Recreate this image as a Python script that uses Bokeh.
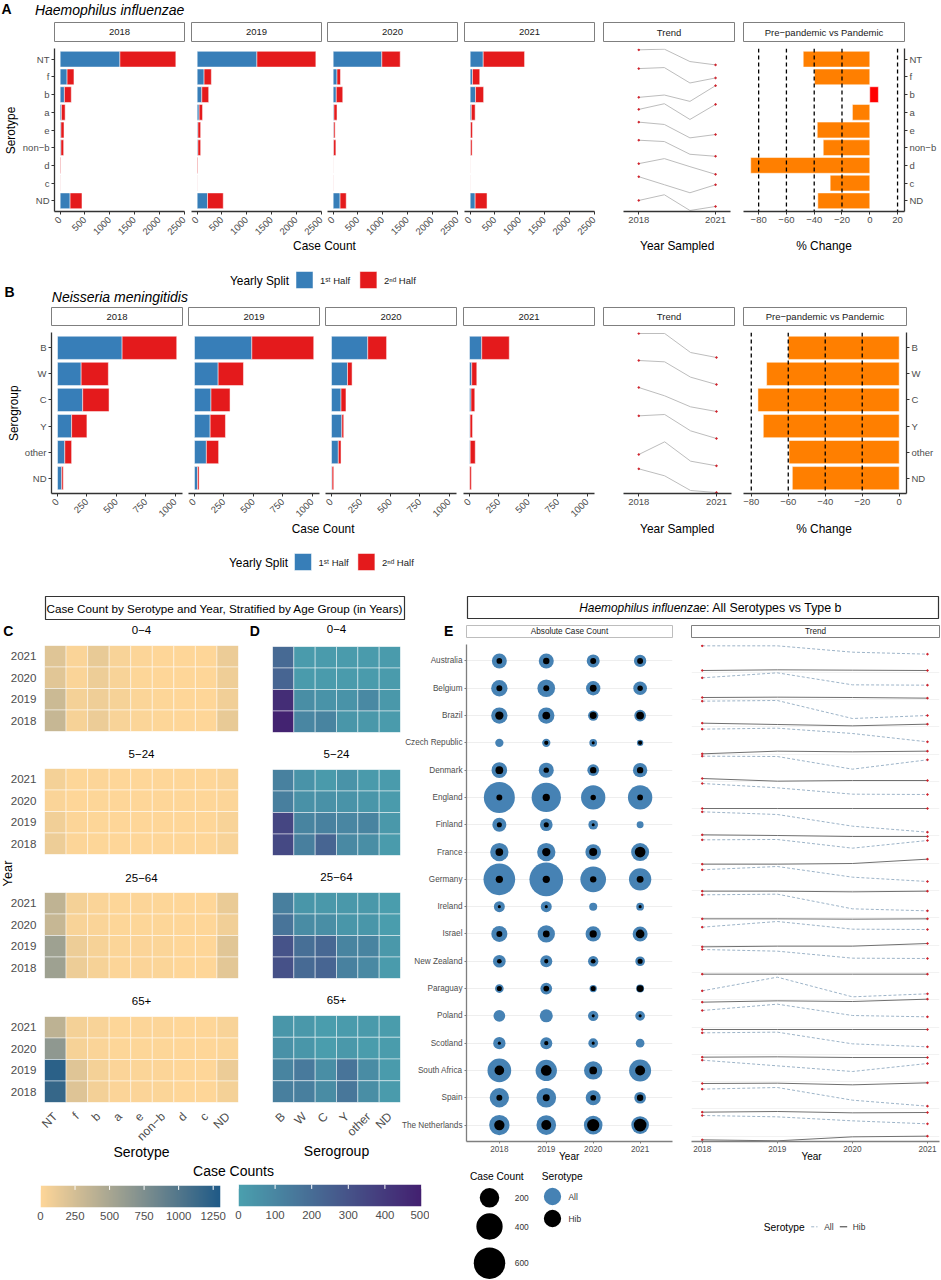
import math
import numpy as np
from bokeh.core.properties import value
from bokeh.embed import file_html
from bokeh.resources import INLINE
from bokeh.layouts import column
from bokeh.plotting import figure
from bokeh.models import FactorRange, Range1d, FixedTicker, Span, LinearColorMapper, ColumnDataSource

YEARS = [2018, 2019, 2020, 2021]
YEAR_LABELS = ["2018", "2019", "2020", "2021"]

# ---- Panel A
SEROTYPES = ["NT", "f", "b", "a", "e", "non\u2212b", "d", "c", "ND"]
hi_first = {
    2018: [1206, 139, 85, 25, 15, 15, 4, 2, 200],
    2019: [1206, 139, 93, 39, 15, 15, 3, 2, 209],
    2020: [982, 77, 62, 15, 12, 8, 1, 1, 139],
    2021: [263, 46, 108, 23, 8, 8, 1, 1, 100],
}
hi_total = {
    2018: [2335, 278, 224, 100, 77, 70, 15, 6, 440],
    2019: [2396, 286, 232, 108, 70, 70, 15, 5, 526],
    2020: [1353, 147, 193, 77, 39, 54, 3, 4, 263],
    2021: [1098, 193, 271, 100, 46, 39, 3, 3, 340],
}
hi_trend = [
    [149, 147, 184, 194], [205, 202, 248, 233], [291, 284, 303, 256],
    [327, 310, 357, 312], [365, 372, 412, 402], [419, 423, 461, 467],
    [489, 474, 498, 521], [528, 552, 576, 552], [599, 582, 629, 617],
]
hi_change = [-47.9, -39.8, 6.2, -12.5, -37.8, -33.5, -85.7, -28.5, -37.4]

# ---- Panel B
SEROGROUPS = ["B", "W", "C", "Y", "other", "ND"]
nm_first = {
    2018: [549, 201, 214, 120, 62, 36],
    2019: [487, 201, 140, 133, 101, 26],
    2020: [308, 136, 81, 88, 58, 5],
    2021: [104, 19, 13, 5, 6, 2],
}
nm_total = {
    2018: [1013, 432, 438, 250, 120, 49],
    2019: [1013, 416, 302, 263, 205, 39],
    2020: [468, 175, 123, 104, 81, 19],
    2021: [338, 62, 45, 26, 49, 16],
}
nm_trend = [
    [130, 130, 187, 202], [211, 215, 261, 283], [292, 317, 350, 364],
    [377, 373, 422, 445], [493, 455, 513, 527], [536, 557, 601, 607],
]
nm_change = [-60, -71.7, -76.4, -73.5, -59.6, -57.8]

# ---- Panels C / D (rows: 2021, 2020, 2019, 2018)
HEAT_YEARS = ["2021", "2020", "2019", "2018"]
AGE_GROUPS = ["0\u22124", "5\u221224", "25\u221264", "65+"]
hi_age_0_4 = [[180, 30, 130, 40, 15, 5, 0, 0, 110], [170, 30, 100, 40, 10, 5, 0, 0, 90],
              [300, 60, 90, 50, 20, 10, 0, 0, 80], [330, 50, 110, 40, 20, 10, 0, 0, 130]]
hi_age_5_24 = [[60, 10, 15, 5, 5, 5, 0, 0, 30], [30, 5, 10, 5, 5, 5, 0, 0, 15],
               [80, 15, 10, 5, 5, 5, 0, 0, 40], [100, 15, 10, 5, 5, 5, 0, 0, 40]]
hi_age_25_64 = [[370, 60, 30, 10, 15, 10, 0, 0, 120], [330, 40, 30, 10, 10, 10, 0, 0, 80],
                [560, 100, 50, 20, 25, 20, 0, 0, 170], [560, 100, 50, 15, 25, 20, 0, 0, 160]]
hi_age_65 = [[380, 60, 40, 10, 15, 15, 0, 0, 40], [650, 50, 30, 10, 10, 10, 0, 0, 20],
             [1230, 180, 60, 25, 20, 15, 0, 0, 110], [1170, 190, 70, 25, 25, 20, 0, 0, 60]]
nm_age_0_4 = [[210, 20, 20, 20, 20, 20], [230, 20, 20, 20, 20, 20],
              [450, 70, 50, 50, 90, 30], [490, 100, 110, 40, 30, 20]]
nm_age_5_24 = [[120, 50, 25, 50, 25, 20], [130, 60, 60, 50, 40, 20],
               [350, 110, 120, 100, 110, 30], [340, 130, 230, 90, 70, 20]]
nm_age_25_64 = [[130, 40, 30, 30, 30, 10], [170, 80, 70, 40, 40, 10],
                [300, 190, 220, 110, 110, 30], [310, 210, 230, 120, 90, 20]]
nm_age_65 = [[40, 30, 10, 20, 25, 15], [60, 40, 10, 30, 15, 15],
             [110, 150, 70, 170, 80, 20], [130, 130, 80, 160, 70, 20]]

# ---- Panel E
COUNTRIES = ["Australia", "Belgium", "Brazil", "Czech Republic", "Denmark", "England", "Finland",
             "France", "Germany", "Ireland", "Israel", "New Zealand", "Paraguay", "Poland",
             "Scotland", "South Africa", "Spain", "The Netherlands"]
all_counts = [[105, 105, 73, 63], [130, 158, 94, 83], [130, 130, 39, 55], [20, 20, 16, 8],
              [117, 105, 55, 94], [578, 511, 335, 335], [88, 68, 32, 11], [172, 172, 117, 165],
              [607, 695, 378, 275], [46, 46, 18, 16], [124, 150, 111, 105], [68, 59, 39, 32],
              [23, 55, 13, 18], [55, 73, 39, 32], [63, 59, 32, 23], [315, 247, 172, 265],
              [196, 204, 105, 55], [221, 204, 180, 158]]
hib_counts = [[5, 8, 6, 6], [6, 6, 10, 4], [20, 16, 11, 16], [None, 1, 0, 1],
              [16, 4, 8, 8], [6, 13, 4, 5], [3, 3, 0, None], [16, 20, 18, 43],
              [13, 13, 8, 11], [0, 0, None, 0], [6, 10, 13, 23], [2, 1, 2, 3],
              [3, 5, 3, 10], [None, None, 0, 0], [0, 1, 0, None], [32, 43, 16, 35],
              [6, 11, 5, 8], [39, 35, 63, 68]]
all_trend = [[166, 166, 185, 191], [262, 247, 283, 284], [332, 330, 384, 375], [416, 413, 429, 454],
             [497, 498, 536, 508], [579, 592, 611, 612], [664, 672, 707, 725], [748, 747, 773, 750],
             [838, 828, 860, 873], [913, 911, 955, 961], [1010, 993, 1016, 1017], [1077, 1082, 1103, 1104],
             [1201, 1160, 1219, 1210], [1260, 1241, 1275, 1279], [1327, 1325, 1360, 1369],
             [1409, 1426, 1443, 1419], [1496, 1491, 1529, 1547], [1575, 1579, 1591, 1600]]
hib_trend = [[240, 238, 239, 240], [321, 320, 321, 323], [398, 402, 406, 401], [490, 482, 484, 482],
             [564, 572, 570, 570], [654, 654, 654, 654], [733, 735, 738, 738], [821, 821, 819, 806],
             [902, 902, 904, 902], [985, 985, 986, 985], [1069, 1067, 1067, 1059], [1151, 1151, 1151, 1151],
             [1235, 1231, 1233, 1226], [1317, 1317, 1317, 1317], [1400, 1399, 1401, 1401],
             [1479, 1478, 1483, 1477], [1565, 1563, 1567, 1566], [1648, 1651, 1639, 1637]]
legend_counts = [200, 400, 600]

# ---- Style
FONT = "Liberation Sans"
BLUE, RED, ORANGE = "#377EB8", "#E41A1C", "#FF7F00"
AXIS = "#333333"
TICKTXT = "#4D4D4D"
W, H = 941, 1280


def bubble(v):
    return 3.1 + 1.16 * math.sqrt(v)


def lerp_palette(a, b, n=256):
    ca = [int(a[i:i + 2], 16) for i in (1, 3, 5)]
    cb = [int(b[i:i + 2], 16) for i in (1, 3, 5)]
    return ["#%02x%02x%02x" % tuple(round(ca[k] + (cb[k] - ca[k]) * t / (n - 1)) for k in range(3)) for t in range(n)]


all_figs = []


def panel(x0, y0, x1, y1, xr, yr, bl=10, br=10, bt=5, bb=50, **kw):
    br = min(br, W - x1)
    bb = min(bb, H - y1)
    p = figure(x_range=xr, y_range=yr, width=x1 - x0 + bl + br, height=y1 - y0 + bt + bb,
               min_border_left=bl, min_border_right=br, min_border_top=bt, min_border_bottom=bb,
               toolbar_location=None, output_backend="svg", background_fill_color=None,
               border_fill_color=None, outline_line_color=None, frame_align=False,
               styles={"position": "absolute", "left": f"{x0 - bl}px", "top": f"{y0 - bt}px"}, **kw)
    p.grid.visible = False
    all_figs.append(p)
    return p


def style_axis(ax, size="9.5px", line=AXIS, lw=1.3, tick=3):
    ax.major_label_text_font = FONT
    ax.major_label_text_font_size = size
    ax.major_label_text_color = TICKTXT
    ax.axis_line_color = line
    ax.axis_line_width = lw
    ax.major_tick_line_color = line
    ax.major_tick_in = 0
    ax.major_tick_out = tick
    ax.minor_tick_line_color = None
    ax.major_label_standoff = 2


ov = figure(width=W, height=H, x_range=Range1d(0, W), y_range=Range1d(H, 0), x_axis_type=None, y_axis_type=None,
            min_border=0, toolbar_location=None, output_backend="svg", outline_line_color=None,
            background_fill_color=None, border_fill_color=None, frame_align=False,
            styles={"position": "absolute", "left": "0px", "top": "0px"})
ov.grid.visible = False
all_figs.append(ov)


def T(x, y, s, size=11.9, align="center", base="middle", color="black", style="normal", angle=0.0):
    ov.text([x], [y], text=[s], text_font=value(FONT), text_font_size=f"{size}px", text_align=align,
            text_baseline=base, text_color=color, text_font_style=style, angle=angle)


def box(x0, y0, x1, y1, label=None, size=9.5, color="#7F7F7F", lw=1.0):
    ov.quad(left=[x0], right=[x1], top=[y0], bottom=[y1], fill_color="white", line_color=color, line_width=lw)
    if label:
        T((x0 + x1) / 2, (y0 + y1) / 2, label, size=size, color="#1A1A1A")


def bars(cats, first, total, frames, top, bottom, xstart, xend, ticks):
    n = len(cats)
    step = step_of[n]
    rp = ((bottom - top) - n * step) / (n * step)
    for i, (yr, (x0, x1)) in enumerate(zip(YEARS, frames)):
        p = panel(x0, top, x1, bottom, Range1d(xstart, xend), FactorRange(factors=cats[::-1], range_padding=rp), bl=45, bb=35)
        a = first[yr]
        b = total[yr]
        p.hbar(y=cats, left=0, right=a, height=0.89, fill_color=BLUE, line_color="white", line_width=0.5)
        p.hbar(y=cats, left=a, right=b, height=0.89, fill_color=RED, line_color="white", line_width=0.5)
        style_axis(p.xaxis[0])
        style_axis(p.yaxis[0])
        p.xaxis.ticker = FixedTicker(ticks=ticks)
        p.xaxis.major_label_orientation = math.pi / 4
        p.xaxis.major_label_standoff = 4
        if i:
            p.yaxis.visible = False


def sparks(rows, x0, x1, top, bottom, xr, zr):
    p = panel(x0, top, x1, bottom, Range1d(*xr), Range1d(*zr), bb=25)
    for r in rows:
        p.line(YEARS, r, line_color="#BDBDBD", line_width=1)
        p.scatter([YEARS[0], YEARS[-1]], [r[0], r[-1]], size=1.6, color="#D0202A")
    style_axis(p.xaxis[0])
    p.xaxis.ticker = FixedTicker(ticks=[2018, 2021])
    p.yaxis.visible = False


def change(cats, vals, x0, x1, top, bottom, xr, ticks, lines):
    n = len(cats)
    step = step_of[n]
    rp = ((bottom - top) - n * step) / (n * step)
    p = panel(x0, top, x1, bottom, Range1d(*xr), FactorRange(factors=cats[::-1], range_padding=rp), br=37, bb=25,
              y_axis_location="right")
    colors = [ORANGE if v < 0 else "#FF0000" for v in vals]
    p.hbar(y=cats, left=0, right=vals, height=0.89, fill_color=colors, line_color="white", line_width=0.5)
    for v in lines:
        p.add_layout(Span(location=v, dimension="height", line_color="black", line_width=1.3, line_dash=[4, 3]))
    style_axis(p.xaxis[0])
    style_axis(p.yaxis[0])
    p.xaxis.ticker = FixedTicker(ticks=ticks)


step_of = {9: 17.7, 6: 26.07}

# ---- A
for (x0, x1), y in zip([(54, 184), (191, 321), (327, 457), (464, 594)], YEAR_LABELS):
    box(x0, 22, x1, 41, y)
box(603, 22, 734, 41, "Trend")
box(743, 22, 904, 41, "Pre\u2212pandemic vs Pandemic")
bars(SEROTYPES, hi_first, hi_total, [(54, 184), (191, 321), (327, 457), (464, 594)], 48, 211, -115, 2510,
     [0, 500, 1000, 1500, 2000, 2500])
sparks(hi_trend, 623, 730, 48, 211, (2017.404, 2021.584), (632, 145))
change(SEROTYPES, hi_change, 743, 904, 48, 211, (-90.9, 25), [-80, -60, -40, -20, 0, 20], [-80, -60, -40, -20, 20])

# ---- B
for (x0, x1), y in zip([(51, 182), (188, 319), (325, 456), (463, 594)], YEAR_LABELS):
    box(x0, 307, x1, 325, y)
box(603, 307, 734, 325, "Trend")
box(743, 307, 906, 325, "Pre\u2212pandemic vs Pandemic")
bars(SEROGROUPS, nm_first, nm_total, [(51, 182), (188, 319), (325, 456), (463, 594)], 332, 493, -50.9, 1062,
     [0, 250, 500, 750, 1000])
sparks(nm_trend, 623, 731, 332, 493, (2017.41, 2021.58), (610, 127))
change(SEROGROUPS, nm_change, 743, 906, 332, 493, (-84.2, 3.95), [-80, -60, -40, -20, 0], [-80, -60, -40, -20])

T(34.4, 9.3, "Haemophilus influenzae", size=14, align="left", style="italic")
T(51.3, 296.7, "Neisseria meningitidis", size=14, align="left", style="italic")
T(1, 8, "A", size=14, align="left", style="bold")
T(4, 291, "B", size=14, align="left", style="bold")
T(10, 130, "Serotype", size=11.9, angle=math.pi / 2)
T(13.8, 412.7, "Serogroup", size=11.9, angle=math.pi / 2)
for (cc, ys, leg, sw1, sw2, legy) in [(324, 245.7, 259, 295.5, 359.4, 280), (322.6, 528.3, 258, 294, 357.4, 562)]:
    T(cc, ys, "Case Count")
    T(676.7, ys, "Year Sampled")
    T(823.5, ys, "% Change")
    T(leg, legy, "Yearly Split")
    ov.quad(left=[sw1], right=[sw1 + 17], top=[legy - 9], bottom=[legy + 8], fill_color=BLUE, line_color="white", line_width=0.5)
    ov.quad(left=[sw2], right=[sw2 + 17], top=[legy - 9], bottom=[legy + 8], fill_color=RED, line_color="white", line_width=0.5)
    T(sw1 + 24, legy, "1\u02e2\u1d57 Half", size=9.5, align="left", color="#1A1A1A")
    T(sw2 + 24, legy, "2\u207f\u1d48 Half", size=9.5, align="left", color="#1A1A1A")

# ---- C / D
CHI_HIGH = 1303
pal_c = lerp_palette("#FED698", "#1F5A87")
pal_d = lerp_palette("#4AA0AE", "#432070")
map_c = LinearColorMapper(palette=pal_c, low=0, high=CHI_HIGH)
map_d = LinearColorMapper(palette=pal_d, low=0, high=500)


def heat(rows, cats, mapper, x0, x1, top, bottom, yaxis, xaxis):
    xs, ys, vs = [], [], []
    for yr, row in zip(HEAT_YEARS, rows):
        for c, v in zip(cats, row):
            xs.append(c)
            ys.append(yr)
            vs.append(v)
    src = ColumnDataSource(dict(x=xs, y=ys, v=vs))
    p = panel(x0, top, x1, bottom, FactorRange(factors=cats, range_padding=0),
              FactorRange(factors=HEAT_YEARS[::-1], range_padding=0), bl=40, bb=50 if xaxis else 5)
    p.rect(x="x", y="y", width=1, height=1, source=src, fill_color={"field": "v", "transform": mapper},
           line_color="#FFFFFF", line_alpha=0.6, line_width=0.8)
    style_axis(p.xaxis[0], size="12px", line=None, tick=0)
    style_axis(p.yaxis[0], size="11.6px", line=None, tick=0)
    p.xaxis.major_label_orientation = math.pi / 4
    p.xaxis.major_label_standoff = 12
    p.yaxis.major_label_standoff = 8
    p.xaxis.visible = xaxis
    p.yaxis.visible = yaxis


c_rows = [hi_age_0_4, hi_age_5_24, hi_age_25_64, hi_age_65]
d_rows = [nm_age_0_4, nm_age_5_24, nm_age_25_64, nm_age_65]
c_spans = [(645, 731), (768, 854), (892, 978), (1016, 1102)]
d_spans = [(646, 732), (769, 855), (892, 978), (1015, 1102)]
title_c = [629.3, 753, 877.3, 1000.7]
title_d = [628.7, 753.7, 876.7, 999.7]
for i in range(4):
    heat(c_rows[i], SEROTYPES, map_c, 44, 238, c_spans[i][0], c_spans[i][1], True, i == 3)
    heat(d_rows[i], SEROGROUPS, map_d, 272, 400, d_spans[i][0], d_spans[i][1], False, i == 3)
    T(141, title_c[i], AGE_GROUPS[i], size=11.5)
    T(336, title_d[i], AGE_GROUPS[i], size=11.5)

box(45, 596, 404, 619, color="#333333", lw=1.2)
T(224.5, 607.5, "Case Count by Serotype and Year, Stratified by Age Group (in Years)", size=11.7)
T(2.7, 630, "C", size=14, align="left", style="bold")
T(249.3, 630, "D", size=14, align="left", style="bold")
T(6.7, 873, "Year", size=12.8, angle=math.pi / 2)
T(141, 1151.7, "Serotype", size=14)
T(336, 1150, "Serogroup", size=14)
T(233, 1170.7, "Case Counts", size=14)


def colorbar(mapper, high, ticks, x0, x1, y0, y1):
    p = panel(x0, y0, x1, y1, Range1d(0, high), Range1d(0, 1), bl=8, br=8, bb=18)
    p.image(image=[np.linspace(0, high, 256).reshape(1, -1)], x=0, y=0, dw=high, dh=1, color_mapper=mapper)
    p.segment(x0=ticks, x1=ticks, y0=[0.8] * len(ticks), y1=[1.0] * len(ticks), line_color="white", line_width=1)
    ax = p.xaxis[0]
    style_axis(ax, size="11.4px", line=None, tick=0)
    ax.ticker = FixedTicker(ticks=ticks)
    ax.major_label_standoff = 4
    p.yaxis.visible = False


colorbar(map_c, CHI_HIGH, [0, 250, 500, 750, 1000, 1250], 40, 220, 1185, 1207)
colorbar(map_d, 500, [0, 100, 200, 300, 400, 500], 238, 421, 1184, 1206)

# ---- E
box(467, 596, 938, 618, color="#333333", lw=1.2)
T(578.7, 607.5, "Haemophilus influenzae", size=11.9, align="left", style="italic")
T(705.5, 607.5, ": All Serotypes vs Type b", size=12.4, align="left")
T(443.5, 630, "E", size=14, align="left", style="bold")
box(466, 625, 672, 637, "Absolute Case Count", size=8.2, color="#BDBDBD")
box(691, 625, 939, 637, "Trend", size=8.2, color="#7F7F7F")

n = len(COUNTRIES)
rp_e = (497 - n * 27.3) / (n * 27.3)
pb = panel(466, 644, 672, 1141, Range1d(2017.30, 2021.69), FactorRange(factors=COUNTRIES[::-1], range_padding=rp_e),
           bl=70, bb=20)
pb.ygrid.visible = True
pb.ygrid.grid_line_color = "#EEEEEE"
pb.ygrid.grid_line_width = 1
style_axis(pb.xaxis[0], size="8.2px", line="#7F7F7F", tick=2)
style_axis(pb.yaxis[0], size="8.2px", line="#7F7F7F", tick=2)
pb.xaxis.ticker = FixedTicker(ticks=YEARS)
for c, a_row, h_row in zip(COUNTRIES, all_counts, hib_counts):
    pb.scatter(YEARS, [c] * 4, size=[bubble(v) for v in a_row], fill_color="#4682B4", line_color=None)
    yrs = [y for y, v in zip(YEARS, h_row) if v is not None]
    pb.scatter(yrs, [c] * len(yrs), size=[bubble(v) for v in h_row if v is not None], fill_color="black", line_color=None)

pt = panel(691, 644, 939, 1141, Range1d(2017.857, 2021.16), Range1d(1653, 162), bl=5, br=2, bb=20)
pt.ygrid.visible = True
pt.ygrid.grid_line_color = "#F2F2F2"
pt.ygrid.ticker = FixedTicker(ticks=[245 + 81.9 * i for i in range(18)])
style_axis(pt.xaxis[0], size="8.2px", line="#7F7F7F", tick=2)
pt.xaxis.ticker = FixedTicker(ticks=YEARS)
pt.yaxis.visible = False
for a_row, h_row in zip(all_trend, hib_trend):
    pt.line(YEARS, a_row, line_color="#9DB4C8", line_width=1, line_dash=[3, 2])
    pt.line(YEARS, h_row, line_color="#707070", line_width=1)
    for r in (a_row, h_row):
        pt.scatter([2018, 2021], [r[0], r[-1]], size=1.6, color="#D0202A")

T(568.7, 1156, "Year", size=10)
T(811, 1156, "Year", size=10)
T(496.3, 1175.7, "Case Count", size=10.2)
T(561.7, 1175.7, "Serotype", size=10.2)
for v, cy in zip(legend_counts, [1197.3, 1226, 1262.7]):
    ov.scatter([489], [cy], size=bubble(v), fill_color="black", line_color=None)
    T(514.3, cy, str(v), size=8.4, align="left", color="#333333")
ov.scatter([552], [1196], size=17.3, fill_color="#4682B4", line_color=None)
ov.scatter([552], [1218], size=17.3, fill_color="black", line_color=None)
T(568, 1196, "All", size=8.4, align="left", color="#333333")
T(568, 1218, "Hib", size=8.4, align="left", color="#333333")
T(763.3, 1227, "Serotype", size=10.2, align="left")
ov.line([810.7, 817], [1226.3, 1226.3], line_color="#9DB4C8", line_width=1, line_dash=[3, 2])
ov.line([839.3, 846.7], [1226.3, 1226.3], line_color="#333333", line_width=1)
T(823.7, 1226.3, "All", size=8.4, align="left", color="#333333")
T(852.3, 1226.3, "Hib", size=8.4, align="left", color="#333333")

root = column(children=all_figs, width=W, height=H)
open("out.html", "w").write(file_html(root, INLINE))
